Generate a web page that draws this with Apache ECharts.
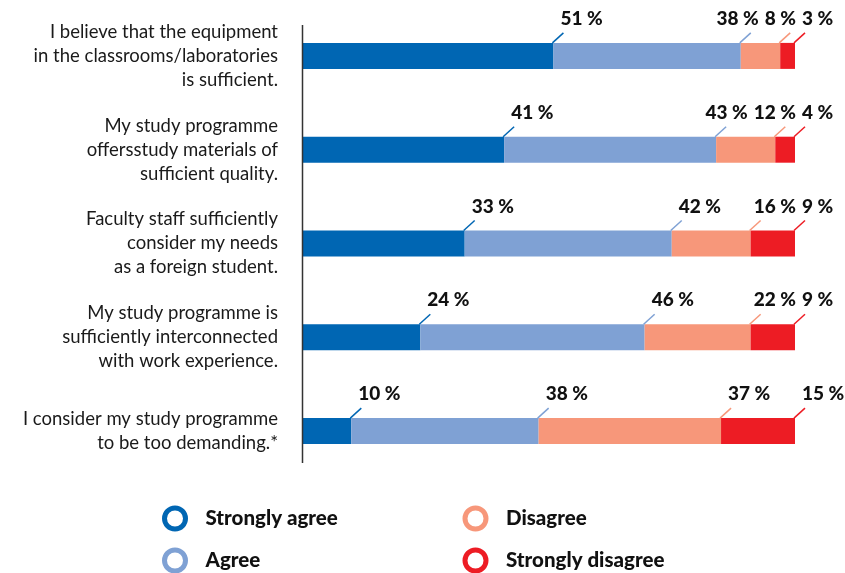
<!DOCTYPE html>
<html>
<head>
<meta charset="utf-8">
<script src="https://cdn.jsdelivr.net/npm/echarts@6/dist/echarts.min.js"></script>
<style>
html,body{margin:0;padding:0;background:#fff;}
#chart{width:845px;height:573px;}
</style>
</head>
<body>
<div id="chart"></div>
<script>
const categories = [
  'I believe that the equipment\nin the classrooms/laboratories\nis sufficient.',
  'My study programme\noffersstudy materials of\nsufficient quality.',
  'Faculty staff sufficiently\nconsider my needs\nas a foreign student.',
  'My study programme is\nsufficiently interconnected\nwith work experience.',
  'I consider my study programme\nto be too demanding.*'
];
const seriesNames = ['Strongly agree', 'Agree', 'Disagree', 'Strongly disagree'];
const stronglyAgree    = [51, 41, 33, 24, 10];
const agree            = [38, 43, 42, 45.5, 38];
const disagree         = [8, 12, 16, 21.5, 37];
const stronglyDisagree = [3, 4, 9, 9, 15];
const seriesValues = [stronglyAgree, agree, disagree, stronglyDisagree];

const colors = ['#0066b3', '#7fa1d4', '#f7977a', '#ed1c24'];
const BAR_W = 26;
const FONT = 'Lato';
const LBL_SIZE = 19;
const LBL_WEIGHT = 900;
const labelFont = LBL_WEIGHT + ' ' + LBL_SIZE + 'px ' + FONT;

const ctx = document.createElement('canvas').getContext('2d');
function measure(t) { ctx.font = labelFont; return ctx.measureText(t).width; }
function fmt(v) { return Math.round(v) + ' %'; }

const chart = echarts.init(document.getElementById('chart'), null, {renderer: 'canvas'});

const barSeries = seriesNames.map((name, k) => ({
  name: name,
  type: 'bar',
  stack: 'total',
  barWidth: BAR_W,
  itemStyle: {color: colors[k]},
  data: seriesValues[k],
  z: 2
}));

const labelSeries = {
  type: 'custom',
  clip: false,
  silent: true,
  z: 5,
  encode: {y: 0},
  data: categories.map((c, i) => [i]),
  renderItem: function (params, api) {
    const i = api.value(0);
    const vals = seriesValues.map(a => a[i]);
    let cum = 0;
    const ends = vals.map(v => { cum += v; return api.coord([cum, i]); });
    const yTop = ends[0][1] - BAR_W / 2;
    const texts = vals.map(fmt);
    const widths = texts.map(measure);
    const lefts = [];
    let limit = Infinity;
    for (let k = 3; k >= 0; k--) {
      let x = Math.min(ends[k][0] + 7, limit - widths[k]);
      lefts[k] = x;
      limit = x - 6;
    }
    const children = [];
    for (let k = 0; k < 4; k++) {
      children.push({
        type: 'line',
        shape: {x1: ends[k][0] - 1, y1: yTop, x2: ends[k][0] + 10, y2: yTop - 10},
        style: {stroke: colors[k], lineWidth: 1.5}
      });
      children.push({
        type: 'text',
        style: {
          text: texts[k], x: lefts[k], y: yTop - 24,
          fontSize: LBL_SIZE, fontWeight: LBL_WEIGHT, fontFamily: FONT,
          fill: '#111', align: 'left', verticalAlign: 'middle'
        }
      });
    }
    return {type: 'group', children: children};
  }
};

// legend placement (style): [left, top] per legend entry
const legendPos = [[162, 505.5], [162, 547.5], [462.5, 505.5], [462.5, 547.5]];
const legends = seriesNames.map((name, k) => ({
  orient: 'horizontal',
  left: legendPos[k][0],
  top: legendPos[k][1],
  padding: 0,
  itemWidth: 21,
  itemHeight: 21,
  selectedMode: false,
  data: [{
    name: name,
    icon: 'circle',
    itemStyle: {color: '#fff', borderColor: colors[k], borderWidth: 5}
  }],
  textStyle: {fontSize: 20.5, fontWeight: 900, fontFamily: FONT, color: '#111', padding: [0, 0, 0, 15]}
}));

chart.setOption({
  animation: false,
  backgroundColor: '#fff',
  grid: {left: 302, right: 50, top: 9, bottom: 95, containLabel: false},
  xAxis: {
    type: 'value', min: 0, max: 100, show: false
  },
  yAxis: {
    type: 'category',
    inverse: true,
    data: categories,
    axisLine: {show: false},
    axisTick: {show: false},
    splitLine: {show: false},
    axisLabel: {
      margin: 24,
      fontSize: 18.5,
      lineHeight: 24,
      fontFamily: FONT,
      color: '#1a1a1a',
      align: 'right'
    }
  },
  legend: legends,
  graphic: [{
    type: 'line',
    shape: {x1: 302.5, y1: 25, x2: 302.5, y2: 463},
    style: {stroke: '#333', lineWidth: 1.5},
    z: 10
  }],
  series: barSeries.concat([labelSeries])
});
</script>
</body>
</html>
